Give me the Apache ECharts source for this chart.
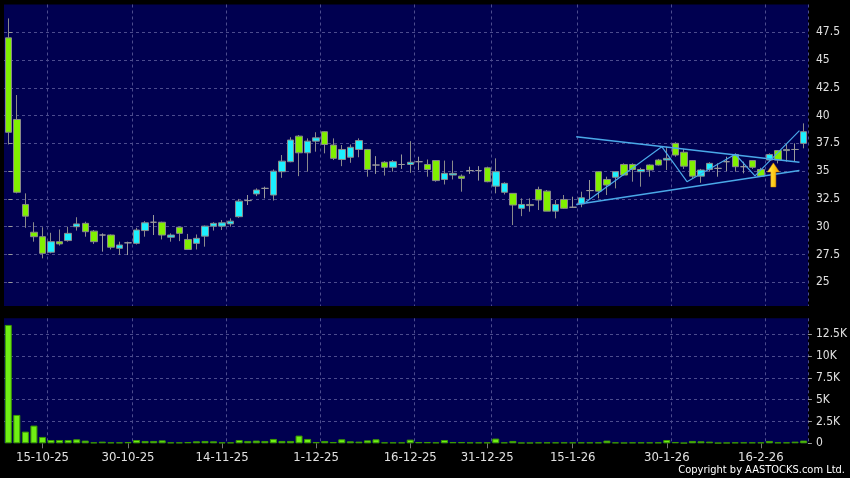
<!DOCTYPE html>
<html><head><meta charset="utf-8">
<script src="https://cdn.jsdelivr.net/npm/echarts@6/dist/echarts.min.js"></script>
<style>html,body{margin:0;padding:0;background:#000;}#c{width:850px;height:478px;}</style>
</head><body><div id="c"></div>
<script>
const dates = ['9-10-25','10-10-25','13-10-25','14-10-25','15-10-25','16-10-25','17-10-25','20-10-25','21-10-25','22-10-25',
'23-10-25','24-10-25','27-10-25','28-10-25','30-10-25','31-10-25','3-11-25','4-11-25','5-11-25','6-11-25',
'7-11-25','10-11-25','11-11-25','12-11-25','13-11-25','14-11-25','17-11-25','18-11-25','19-11-25','20-11-25',
'21-11-25','24-11-25','25-11-25','26-11-25','27-11-25','28-11-25','1-12-25','2-12-25','3-12-25','4-12-25',
'5-12-25','8-12-25','9-12-25','10-12-25','11-12-25','12-12-25','15-12-25','16-12-25','17-12-25','18-12-25',
'19-12-25','22-12-25','23-12-25','24-12-25','29-12-25','30-12-25','31-12-25','2-1-26','5-1-26','6-1-26',
'7-1-26','8-1-26','9-1-26','12-1-26','13-1-26','14-1-26','15-1-26','16-1-26','19-1-26','20-1-26',
'21-1-26','22-1-26','23-1-26','26-1-26','27-1-26','28-1-26','29-1-26','30-1-26','2-2-26','3-2-26',
'4-2-26','5-2-26','6-2-26','9-2-26','10-2-26','11-2-26','12-2-26','13-2-26','16-2-26','20-2-26',
'23-2-26','24-2-26','25-2-26','26-2-26'];
const open = [47.0,39.65,32.0,29.5,29.1,27.7,28.65,28.75,30.0,30.3,
29.6,29.25,29.25,28.05,28.55,28.5,29.65,30.4,30.4,29.05,
29.95,28.85,28.5,29.15,30.05,30.05,30.25,30.9,32.35,32.95,
33.45,32.85,34.95,35.85,38.15,36.65,37.7,38.55,37.35,36.05,
36.25,36.95,36.95,35.55,35.8,35.35,35.6,35.6,35.85,35.6,
35.95,34.25,34.65,34.55,35.05,35.05,35.3,33.65,33.1,33.0,
31.65,32.0,33.35,33.2,31.4,32.45,31.75,32.05,33.25,34.95,
34.25,34.45,35.6,35.6,34.95,35.55,36.0,36.0,37.5,36.7,
35.95,34.55,35.15,35.25,35.85,36.5,35.4,35.95,35.15,36.0,
36.85,36.85,36.95,37.5];
const close = [38.5,33.1,30.95,29.1,27.6,28.65,28.45,29.4,30.25,29.55,
28.65,29.25,28.15,28.35,28.55,29.7,30.35,30.4,29.25,29.25,
29.4,27.95,28.95,30.05,30.3,30.35,30.5,32.3,32.35,33.3,
33.45,35.0,35.9,37.8,36.65,37.7,38.0,37.4,36.15,36.95,
37.15,37.75,35.15,35.55,35.35,35.85,35.6,35.8,35.85,35.15,
34.15,34.8,34.8,34.35,35.05,35.05,34.05,34.95,33.9,31.95,
32.0,31.9,32.4,31.4,32.0,31.65,31.75,32.6,33.25,33.2,
33.75,34.95,34.65,35.15,35.15,35.1,35.55,36.15,36.45,35.45,
34.55,35.1,35.7,35.25,35.85,35.4,35.4,35.35,34.55,36.5,
36.0,36.95,36.95,38.55];
const low = [37.4,33.0,29.9,28.65,27.15,27.6,28.3,28.65,29.65,29.1,
28.45,27.75,27.95,27.45,27.45,28.4,29.1,29.25,28.85,28.65,
28.7,27.9,27.95,28.2,29.65,29.7,30.0,30.8,31.95,32.75,
32.55,32.35,34.4,35.8,34.55,34.95,36.75,36.6,36.0,35.45,
35.75,36.25,34.5,34.75,34.6,34.95,35.2,34.85,35.1,34.5,
34.05,33.8,34.25,33.15,34.75,34.15,34.0,33.0,32.9,30.15,
30.95,31.35,31.5,31.4,30.75,31.6,31.7,31.75,32.45,32.55,
32.85,33.45,34.6,34.05,33.6,34.5,35.5,35.1,36.3,35.2,
34.35,33.95,34.95,34.5,35.0,34.95,34.8,35.2,34.5,35.9,
35.7,35.85,35.85,37.05];
const high = [48.75,41.85,33.0,30.4,29.95,29.45,29.75,30.0,30.85,30.45,
29.7,29.4,29.3,28.65,28.65,29.9,30.5,31.05,30.45,29.4,
30.0,29.35,29.3,30.1,30.4,30.6,30.75,32.5,32.85,33.45,
33.6,35.15,36.45,38.05,38.25,37.95,38.5,38.6,37.95,37.35,
37.4,37.95,37.0,36.35,35.9,36.0,36.5,37.7,36.3,36.05,
36.0,35.95,35.95,34.7,35.4,35.45,35.4,36.15,34.0,33.0,
32.55,32.55,33.6,33.3,32.4,32.85,32.7,33.15,34.2,35.0,
34.5,35.0,35.7,35.7,35.3,35.6,36.1,37.2,37.6,37.0,
36.0,35.2,35.8,35.7,36.3,36.6,35.85,36.0,35.3,36.6,
36.9,37.5,37.5,39.3];
const volume = [13570,3250,1340,2030,730,380,380,380,460,310,
110,190,110,110,150,380,270,270,340,110,
110,150,230,270,230,110,110,380,270,310,
270,500,270,270,880,500,150,270,150,460,
230,190,340,460,110,110,110,420,150,150,
110,380,150,150,110,110,110,540,110,270,
80,80,110,110,110,110,110,110,110,110,
310,110,80,110,110,110,110,380,150,60,
270,230,190,60,80,110,110,110,110,270,
110,110,190,310];
const tickLabels = ['15-10-25','30-10-25','14-11-25','1-12-25','16-12-25','31-12-25','15-1-26','30-1-26','16-2-26'];
// annotation lines in data space: [candle index, price]
const upperTrend = [[66.4,38.1],[92.5,35.8]];
const lowerTrend = [[66.4,32.0],[92.5,35.05]];
const zigzag = [[67.5,32.2],[76.4,37.2],[79.35,34.05],[85.0,36.52],[87.3,34.57],[92.5,38.64]];
const arrowPoint = [[89.45,34.66]];

const FONT = '"DejaVu Sans Condensed","DejaVu Sans",sans-serif';
const NAVY = '#000050';
const GRID = '#4c4c8e';
const labelIdx = new Set(tickLabels.map(t => dates.indexOf(t)));
const kData = dates.map((d,i) => [open[i], close[i], low[i], high[i]]);
const dash = {color: GRID, type: [3,3], width: 1};

const chart = echarts.init(document.getElementById('c'), null, {renderer:'canvas'});
chart.setOption({
  animation: false,
  backgroundColor: '#000',
  textStyle: {fontFamily: FONT},
  grid: [
    {left: 4, top: 4.5, width: 804, height: 301.4, show: true, backgroundColor: NAVY, borderWidth: 0},
    {left: 4, top: 318.3, width: 804, height: 125, show: true, backgroundColor: NAVY, borderWidth: 0}
  ],
  xAxis: [
    {type:'category', gridIndex:0, data: dates, boundaryGap:true,
     axisLine:{show:false}, axisTick:{show:false}, axisLabel:{show:false},
     splitLine:{show:true, interval:(i)=>labelIdx.has(i-1), lineStyle:dash}},
    {type:'category', gridIndex:1, data: dates, boundaryGap:true,
     axisLine:{show:false},
     axisTick:{show:true, alignWithLabel:true, interval:(i)=>labelIdx.has(i), length:5, lineStyle:{color:'#777'}},
     axisLabel:{show:true, interval:(i)=>labelIdx.has(i), color:'#e0e0e0', fontSize:13, margin:8, fontFamily:FONT},
     splitLine:{show:true, interval:(i)=>labelIdx.has(i-1), lineStyle:dash}},
    {type:'value', gridIndex:0, min:-0.5, max:dates.length-0.5, show:false}
  ],
  yAxis: [
    {type:'value', gridIndex:0, position:'right', min:22.87, max:50, minInterval:2.5, maxInterval:2.5,
     axisLine:{show:false}, axisTick:{show:true, length:4, lineStyle:{color:'#999'}},
     axisLabel:{color:'#e0e0e0', fontSize:12, margin:8, showMinLabel:false, showMaxLabel:false, fontFamily:FONT},
     splitLine:{show:true, showMinLine:false, showMaxLine:false, lineStyle:dash}},
    {type:'value', gridIndex:1, position:'right', min:0, max:14330, interval:2500,
     axisLine:{show:false}, axisTick:{show:true, length:4, lineStyle:{color:'#999'}},
     axisLabel:{color:'#e0e0e0', fontSize:12, margin:8, showMaxLabel:false, fontFamily:FONT,
       formatter:(v)=> v===0 ? '0' : (v/1000)+'K'},
     splitLine:{show:true, showMinLine:false, showMaxLine:false, lineStyle:dash}}
  ],
  series: [
    {type:'candlestick', xAxisIndex:0, yAxisIndex:0, data:kData, barWidth:7,
     itemStyle:{color:'#1cf0ff', color0:'#80f000', borderColor:'#8a8a8a', borderColor0:'#8a8a8a', borderColorDoji:'#9a9a9a', borderWidth:1}},
    {type:'bar', xAxisIndex:1, yAxisIndex:1, data:volume, barWidth:7,
     itemStyle:{color:'#70f014', borderColor:'#3c9a00', borderWidth:1}},
    {type:'line', xAxisIndex:2, yAxisIndex:0, data:upperTrend, symbol:'none', silent:true,
     lineStyle:{color:'#4aa8e8', width:1.5}},
    {type:'line', xAxisIndex:2, yAxisIndex:0, data:lowerTrend, symbol:'none', silent:true,
     lineStyle:{color:'#4aa8e8', width:1.5}},
    {type:'line', xAxisIndex:2, yAxisIndex:0, data:zigzag, symbol:'none', silent:true,
     lineStyle:{color:'#4aa8e8', width:1.2}},
    {type:'scatter', xAxisIndex:2, yAxisIndex:0, data:arrowPoint, silent:true, z:5,
     symbol:'path://M6,0 L12,9 L8.5,9 L8.5,24 L3.5,24 L3.5,9 L0,9 Z', symbolSize:[12,24],
     itemStyle:{opacity:1, color:new echarts.graphic.LinearGradient(0,0,1,0,[{offset:0,color:'#fff27a'},{offset:0.45,color:'#ffd21e'},{offset:1,color:'#f0a000'}]), borderColor:'#e09000', borderWidth:0.5}}
  ],
  graphic: [
    {type:'text', right:5, top:465, style:{text:'Copyright by AASTOCKS.com Ltd.', fill:'#ffffff', font:'11px '+FONT}}
  ]
});
</script></body></html>
